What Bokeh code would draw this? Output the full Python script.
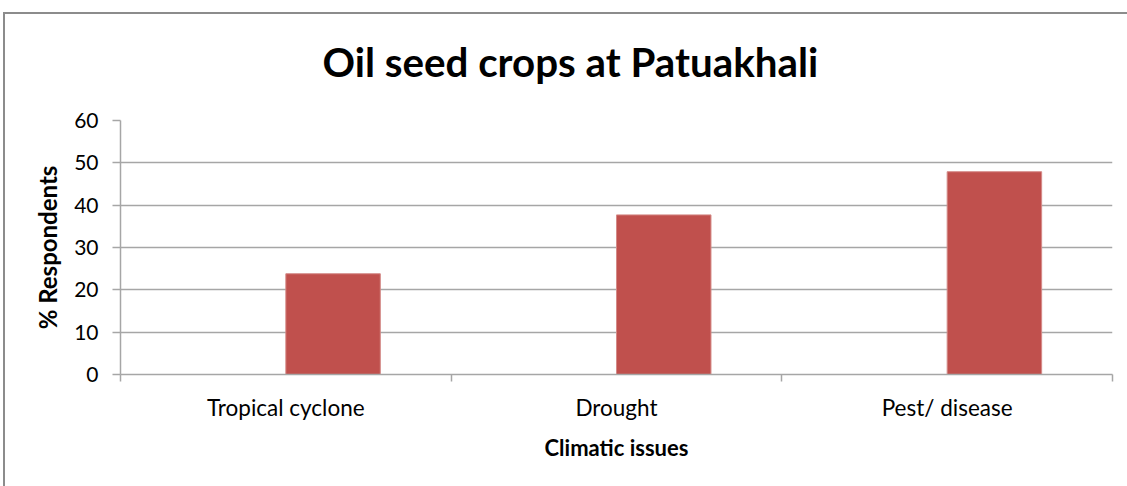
from bokeh.plotting import figure
from bokeh.layouts import column
from bokeh.models import Range1d, FixedTicker, ColumnDataSource
from bokeh.embed import file_html
from bokeh.resources import INLINE

# Survey results: share of respondents naming each climatic issue
categories = ["Tropical cyclone", "Drought", "Pest/ disease"]
respondents_pct = [23.8, 37.7, 47.9]
y_ticks = [0, 10, 20, 30, 40, 50, 60]

FONT = "Lato"
GRID = "#a6a6a6"
BAR = "#C0504D"

# Clustered layout: an empty first series slot, bars sit in the second slot
bar_w = 1 / 3.5
xs = [i + 0.5 + bar_w / 2 for i in range(len(categories))]
src = ColumnDataSource(dict(x=xs, top=respondents_pct, cat=categories))

p = figure(
    width=1127, height=486,
    x_range=Range1d(0, len(categories)), y_range=Range1d(0, 60),
    output_backend="svg", toolbar_location=None,
    min_border_left=120, min_border_right=10, min_border_top=120, min_border_bottom=112,
    margin=(-14, 0, 0, -5),
)
p.outline_line_color = None
p.background_fill_color = "white"
p.border_fill_color = None

p.vbar(x="x", top="top", width=bar_w, source=src,
       fill_color=BAR, line_color="#d48a87", line_width=1)

# Title
p.title.text = "Oil seed crops at Patuakhali"
p.title.text_font = FONT
p.title.text_font_size = "40.3px"
p.title.text_font_style = "bold"
p.title.text_color = "black"
p.title.align = "left"
p.title.offset = 202
p.title.standoff = 69

# X axis: labels at category centres, tick marks on category boundaries
xa = p.xaxis[0]
xa.ticker = FixedTicker(ticks=[i + 0.5 for i in range(len(categories))],
                        minor_ticks=list(range(len(categories) + 1)))
xa.major_label_overrides = {i + 0.5: c for i, c in enumerate(categories)}
xa.major_tick_out = 0
xa.major_tick_in = 0
xa.minor_tick_out = 7
xa.minor_tick_in = 0
xa.minor_tick_line_color = GRID
xa.minor_tick_line_width = 1.5
xa.axis_line_color = GRID
xa.axis_line_width = 1.5
xa.major_label_text_font = FONT
xa.major_label_text_font_size = "22.5px"
xa.major_label_text_color = "black"
xa.major_label_standoff = 12
xa.axis_label = "Climatic issues"
xa.axis_label_text_font = FONT
xa.axis_label_text_font_size = "22px"
xa.axis_label_text_font_style = "bold"
xa.axis_label_text_color = "black"
xa.axis_label_standoff = 10

# Y axis
ya = p.yaxis[0]
ya.ticker = FixedTicker(ticks=y_ticks, minor_ticks=[])
ya.major_tick_out = 8
ya.major_tick_in = 0
ya.major_tick_line_color = GRID
ya.major_tick_line_width = 1.5
ya.axis_line_color = GRID
ya.axis_line_width = 1.5
ya.major_label_text_font = FONT
ya.major_label_text_font_size = "21px"
ya.major_label_text_color = "black"
ya.major_label_standoff = 14
ya.axis_label = "% Respondents"
ya.axis_label_text_font = FONT
ya.axis_label_text_font_size = "24px"
ya.axis_label_text_font_style = "bold"
ya.axis_label_text_color = "black"
ya.axis_label_standoff = 9

p.xgrid.grid_line_color = None
p.ygrid.ticker = FixedTicker(ticks=y_ticks)
p.ygrid.grid_line_color = GRID
p.ygrid.grid_line_width = 1.5

# Chart-area frame: top and left edges
page = column(
    p, margin=(12, 0, 0, 3),
    styles={"border-top": "2px solid #8c8c8c", "border-left": "2px solid #8c8c8c",
            "background-color": "white"},
)

open("out.html", "w").write(file_html(page, INLINE))
